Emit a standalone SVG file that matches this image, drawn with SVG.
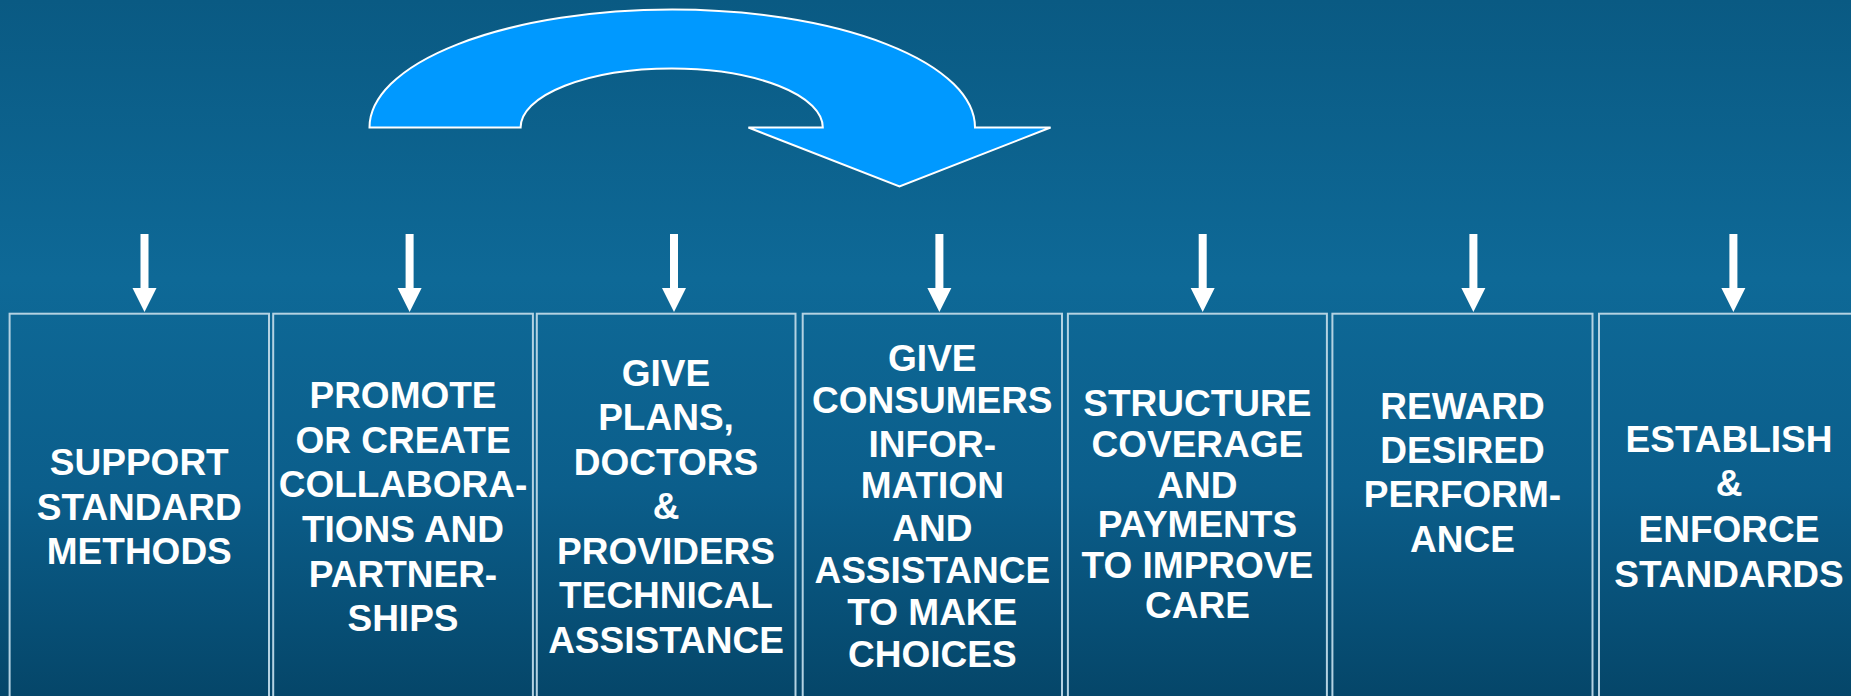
<svg xmlns="http://www.w3.org/2000/svg" width="1851" height="696" viewBox="0 0 1851 696">
<defs>
<linearGradient id="bg" x1="0" y1="0" x2="0" y2="1">
<stop offset="0" stop-color="#0a5a83"/>
<stop offset="0.4" stop-color="#0e6997"/>
<stop offset="0.7" stop-color="#0b5e8b"/>
<stop offset="1" stop-color="#054669"/>
</linearGradient>
<style>
.box{fill:none;stroke:#b4d2e2;stroke-width:2}
.lbl{font-family:"Liberation Sans",Arial,sans-serif;font-weight:bold;font-size:37px;fill:#ffffff;text-anchor:middle}
.dn{fill:#ffffff}
.big{fill:#0099ff;stroke:#ffffff;stroke-width:2;stroke-linejoin:miter}
</style>
</defs>
<rect x="0" y="0" width="1851" height="696" fill="url(#bg)"/>
<g id="cycle-arrow">
<path class="big" d="M369.5,127.5 A302.75,118 0 0 1 975,127.5 L1050.6,127.5 L899.5,186.5 L748.4,127.5 L822.8,127.5 A151.1,59 0 0 0 520.6,127.5 Z"/>
</g>
<g id="connectors">
<g transform="translate(144.5,0)"><rect class="dn" x="-4" y="234" width="8" height="56"/><polygon class="dn" points="-12,288 12,288 0,312"/></g>
<g transform="translate(409.6,0)"><rect class="dn" x="-4" y="234" width="8" height="56"/><polygon class="dn" points="-12,288 12,288 0,312"/></g>
<g transform="translate(674,0)"><rect class="dn" x="-4" y="234" width="8" height="56"/><polygon class="dn" points="-12,288 12,288 0,312"/></g>
<g transform="translate(939.4,0)"><rect class="dn" x="-4" y="234" width="8" height="56"/><polygon class="dn" points="-12,288 12,288 0,312"/></g>
<g transform="translate(1202.7,0)"><rect class="dn" x="-4" y="234" width="8" height="56"/><polygon class="dn" points="-12,288 12,288 0,312"/></g>
<g transform="translate(1473.4,0)"><rect class="dn" x="-4" y="234" width="8" height="56"/><polygon class="dn" points="-12,288 12,288 0,312"/></g>
<g transform="translate(1733.4,0)"><rect class="dn" x="-4" y="234" width="8" height="56"/><polygon class="dn" points="-12,288 12,288 0,312"/></g>
</g>
<g id="box1">
<rect class="box" x="9.6" y="313.7" width="259.4" height="400"/>
<text class="lbl" x="139.3"><tspan x="139.3" y="475">SUPPORT</tspan><tspan x="139.3" y="519.5">STANDARD</tspan><tspan x="139.3" y="563.5">METHODS</tspan></text>
</g>
<g id="box2">
<rect class="box" x="273.2" y="313.7" width="259.7" height="400"/>
<text class="lbl"><tspan x="403" y="408.3">PROMOTE</tspan><tspan x="403" y="453">OR CREATE</tspan><tspan x="403" y="497">COLLABORA-</tspan><tspan x="403" y="541.5">TIONS AND</tspan><tspan x="403" y="586.5">PARTNER-</tspan><tspan x="403" y="630.7">SHIPS</tspan></text>
</g>
<g id="box3">
<rect class="box" x="536.8" y="313.7" width="258.7" height="400"/>
<text class="lbl"><tspan x="666" y="385.7">GIVE</tspan><tspan x="666" y="430">PLANS,</tspan><tspan x="666" y="475">DOCTORS</tspan><tspan x="666" y="519.3">&amp;</tspan><tspan x="666" y="564">PROVIDERS</tspan><tspan x="666" y="608.3">TECHNICAL</tspan><tspan x="666" y="653.3">ASSISTANCE</tspan></text>
</g>
<g id="box4">
<rect class="box" x="802.7" y="313.7" width="259.3" height="400"/>
<text class="lbl"><tspan x="932.3" y="371">GIVE</tspan><tspan x="932.3" y="413.3">CONSUMERS</tspan><tspan x="932.3" y="456.7">INFOR-</tspan><tspan x="932.3" y="498.3">MATION</tspan><tspan x="932.3" y="540.7">AND</tspan><tspan x="932.3" y="582.7">ASSISTANCE</tspan><tspan x="932.3" y="625">TO MAKE</tspan><tspan x="932.3" y="666.7">CHOICES</tspan></text>
</g>
<g id="box5">
<rect class="box" x="1067.9" y="313.7" width="259" height="400"/>
<text class="lbl"><tspan x="1197.4" y="416">STRUCTURE</tspan><tspan x="1197.4" y="457.3">COVERAGE</tspan><tspan x="1197.4" y="497.7">AND</tspan><tspan x="1197.4" y="537.3">PAYMENTS</tspan><tspan x="1197.4" y="578.3">TO IMPROVE</tspan><tspan x="1197.4" y="618.3">CARE</tspan></text>
</g>
<g id="box6">
<rect class="box" x="1332.4" y="313.7" width="260.1" height="400"/>
<text class="lbl"><tspan x="1462.5" y="419">REWARD</tspan><tspan x="1462.5" y="463.3">DESIRED</tspan><tspan x="1462.5" y="507.3">PERFORM-</tspan><tspan x="1462.5" y="551.7">ANCE</tspan></text>
</g>
<g id="box7">
<rect class="box" x="1599" y="313.7" width="261" height="400"/>
<text class="lbl"><tspan x="1729" y="452.3">ESTABLISH</tspan><tspan x="1729" y="496">&amp;</tspan><tspan x="1729" y="541.7">ENFORCE</tspan><tspan x="1729" y="586.7">STANDARDS</tspan></text>
</g>
</svg>
